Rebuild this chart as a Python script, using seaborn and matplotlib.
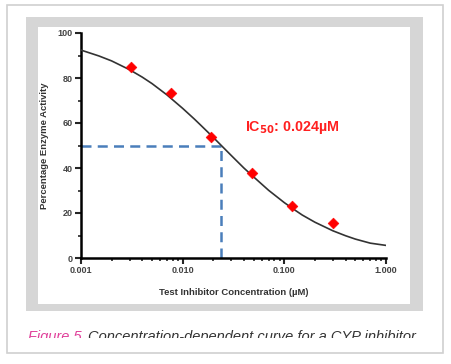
import numpy as np
import pandas as pd
import matplotlib.pyplot as plt
import seaborn as sns
from matplotlib.patches import Rectangle
from matplotlib.ticker import FixedLocator, MultipleLocator

# measured points (concentration in uM, % activity)
conc = [0.0031, 0.0077, 0.019, 0.048, 0.12, 0.30]
activity = [85, 73.5, 54, 38, 23, 15.7]

# fitted curve
curve_x = [0.001, 0.0015, 0.002, 0.003, 0.004, 0.005, 0.007, 0.01, 0.013, 0.015,
           0.02, 0.024, 0.03, 0.04, 0.05, 0.07, 0.1, 0.13, 0.15, 0.2,
           0.3, 0.4, 0.5, 0.7, 1.0]
curve_y = [92.4, 89.8, 87.6, 83.7, 80.4, 77.5, 72.5, 66.5, 61.8, 59.1,
           53.6, 50.0, 45.6, 40.0, 36.0, 30.1, 24.6, 21.0, 19.1, 15.9,
           12.1, 9.9, 8.4, 6.6, 5.6]

ic50 = 0.024
xticks = [0.001, 0.01, 0.1, 1.0]
xticklabels = ["0.001", "0.010", "0.100", "1.000"]

sns.set_style("ticks")
plt.rcParams['font.family'] = ['Liberation Sans', 'DejaVu Sans']

fig = plt.figure(figsize=(4.51, 3.64), dpi=100)
fig.patch.set_facecolor("white")

# card, grey frame and white panel
fig.patches.append(Rectangle((7/451, 1-353/364), 436/451, 348/364, transform=fig.transFigure,
                             facecolor="white", edgecolor="#d0d0d0", lw=1.2, zorder=-3))
fig.patches.append(Rectangle((26/451, 1-311/364), 397/451, 294/364, transform=fig.transFigure,
                             facecolor="#d6d6d6", edgecolor="none", zorder=-2))
fig.patches.append(Rectangle((38/451, 1-304/364), 372/451, 277/364, transform=fig.transFigure,
                             facecolor="white", edgecolor="none", zorder=-1))

ax = fig.add_axes([81/451, 1-258/364, 305/451, 225/364])
ax.set_facecolor("none")

df_curve = pd.DataFrame({"x": curve_x, "y": curve_y})
df_pts = pd.DataFrame({"x": conc, "y": activity})

# dashed IC50 guides
ax.plot([0.001, ic50], [50, 50], color="#4a7ebb", lw=1.8, ls=(0, (4, 2.5)), zorder=2)
ax.plot([ic50, ic50], [0, 50], color="#4a7ebb", lw=1.8, ls=(0, (4, 2.5)), zorder=2)

sns.lineplot(data=df_curve, x="x", y="y", ax=ax, color="#333333", lw=1.2, zorder=3)
sns.scatterplot(data=df_pts, x="x", y="y", ax=ax, marker="D", s=30, color="#ff0000",
                edgecolor="#ff0000", zorder=4)

ax.set_xscale("log")
ax.set_xlim(0.001, 1.0)
ax.set_ylim(0, 100)
ax.xaxis.set_major_locator(FixedLocator(xticks))
ax.set_xticklabels(xticklabels)
ax.yaxis.set_major_locator(MultipleLocator(20))
ax.yaxis.set_minor_locator(MultipleLocator(10))

for s in ["top", "right"]:
    ax.spines[s].set_visible(False)
for s in ["left", "bottom"]:
    ax.spines[s].set_linewidth(1.8)
    ax.spines[s].set_color("black")
ax.tick_params(which="major", length=4, width=1.5, labelsize=6.5, labelcolor="#444444", pad=2)
ax.tick_params(which="minor", length=2.5, width=1.2)
for lab in ax.get_xticklabels() + ax.get_yticklabels():
    lab.set_fontweight("bold")

ax.set_xlabel("Test Inhibitor Concentration (µM)", fontsize=6.8, fontweight="bold",
              color="#333333", labelpad=9)
ax.set_ylabel("Percentage Enzyme Activity", fontsize=6.8, fontweight="bold",
              color="#333333", labelpad=6)

ax.text(0.041, 58, r"IC$_{\mathbf{50}}$: 0.024µM", color="#ff2020",
        fontsize=10.3, fontweight="bold", va="center", ha="left")

# caption
fig.text(28/451, 1-341/364, "Figure 5.", color="#e0409a", fontsize=10.5,
         style="italic", va="baseline")
fig.text(88/451, 1-341/364, "Concentration-dependent curve for a CYP inhibitor",
         color="#333333", fontsize=10.5, style="italic", va="baseline")
fig.patches.append(Rectangle((20/451, 1-352/364), 415/451, 14/364, transform=fig.transFigure,
                             facecolor="white", edgecolor="none", zorder=10))

fig.savefig("out.png", dpi=100)
